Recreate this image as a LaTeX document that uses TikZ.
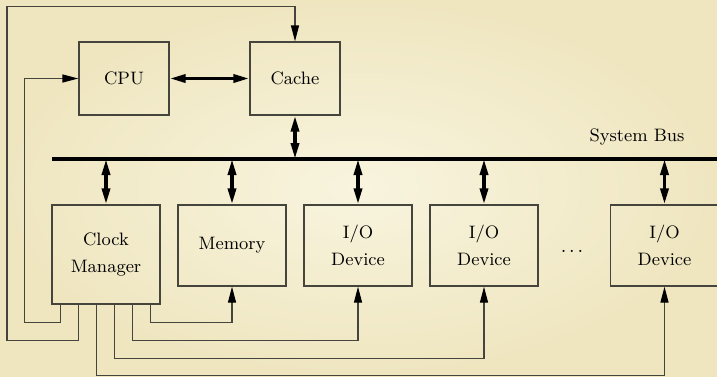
\documentclass[tikz,border=0pt]{standalone}
\usepackage{tikz}
\usetikzlibrary{arrows.meta, calc, shadings}

\definecolor{PaperIn}{HTML}{F8F4DE}
\definecolor{PaperOut}{HTML}{EFE6C0}
\definecolor{WireGray}{HTML}{45453E}

\tikzset{
  block/.style={draw=WireGray, line width=0.65pt, minimum width=54pt,
    minimum height=40.5pt, align=center, inner sep=0pt,
    font=\fontsize{9}{13.5}\selectfont},
  wire/.style={draw=WireGray, line width=0.65pt},
  fat/.style={line width=1.7pt},
  bus/.style={line width=2pt},
}

\begin{document}
\begin{tikzpicture}[x=0.5pt, y=-0.5pt,
    >={Triangle[length=8pt, width=4pt, color=black]}]
  % paper
  \shade[inner color=PaperIn, outer color=PaperOut] (0,0) rectangle (717,376);
  \useasboundingbox (0,0) rectangle (717,376);

  % CPU and cache
  \node[block, minimum width=45pt, minimum height=36.5pt] (cpu) at (124,78.5) {CPU};
  \node[block, minimum width=45pt, minimum height=36.5pt] (cache) at (295,78.5) {Cache};
  \draw[<->, fat] (cpu) -- (cache);

  % system bus
  \coordinate (busL) at (52,159);
  \coordinate (busR) at (720,159);
  \draw[bus] (busL) -- (busR);
  \node[font=\fontsize{9}{13.5}\selectfont] (buslabel) at (637,137) {System Bus};
  \draw[<->, fat] (cache.south) -- (cache.south |- busL);

  % devices on the bus
  \node[block, minimum height=49.5pt] (clock) at (106,254.5) {Clock\\Manager};
  \node[block] (mem) at (232,245.5) {Memory};
  \node[block] (io1) at (358,245.5) {I/O\\Device};
  \node[block] (io2) at (484,245.5) {I/O\\Device};
  \node[block] (io3) at (664.5,245.5) {I/O\\Device};
  \node[font=\fontsize{10}{12}\selectfont, inner sep=0pt] (dots) at (572,251)
    {.\kern1.4pt.\kern1.4pt.};
  \foreach \dev in {clock, mem, io1, io2, io3}
    \draw[<->, fat] (\dev.north |- busL) -- (\dev.north);

  % clock lines
  \foreach \i in {1,...,6}
    \coordinate (tap\i) at ($(clock.south west)+(\i*18-9,0)$);
  \draw[wire, ->] (tap1) -- ++(0,18) -| ($(cpu.west)+(-54,0)$) -- (cpu.west);
  \draw[wire, ->] (tap2) -- ++(0,36) -| ($(cache.north)+(-288,-35)$) -| (cache.north);
  \draw[wire, ->] (tap3) -- ++(0,71) -| (io3.south);
  \draw[wire, ->] (tap4) -- ++(0,54) -| (io2.south);
  \draw[wire, ->] (tap5) -- ++(0,36) -| (io1.south);
  \draw[wire, ->] (tap6) -- ++(0,18) -| (mem.south);
\end{tikzpicture}
\end{document}
